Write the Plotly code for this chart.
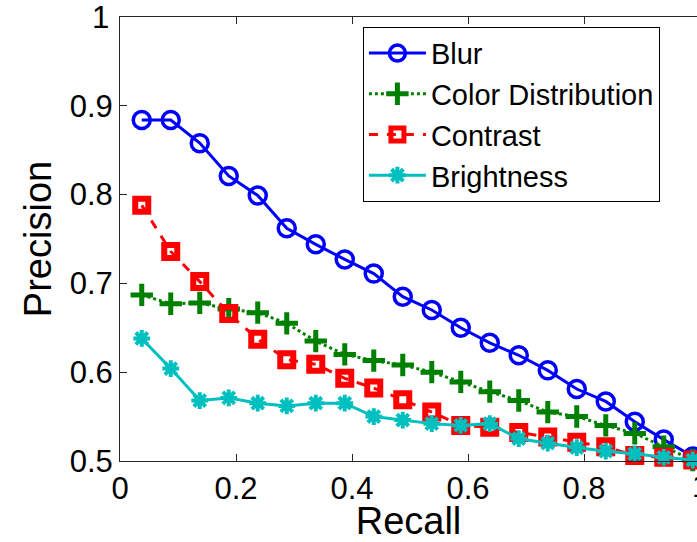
import plotly.graph_objects as go

recall = [0.0375, 0.0875, 0.1375, 0.1875, 0.2375, 0.2875, 0.3375, 0.3875, 0.4375, 0.4875,
          0.5375, 0.5875, 0.6375, 0.6875, 0.7375, 0.7875, 0.8375, 0.8875, 0.9375, 0.9875]
blur = [0.884, 0.884, 0.858, 0.821, 0.799, 0.762, 0.744, 0.727, 0.711, 0.685,
        0.670, 0.650, 0.633, 0.619, 0.602, 0.581, 0.567, 0.544, 0.524, 0.505]
color_dist = [0.687, 0.677, 0.678, 0.671, 0.667, 0.655, 0.635, 0.620, 0.613, 0.608,
              0.600, 0.589, 0.578, 0.568, 0.555, 0.550, 0.540, 0.531, 0.516, 0.501]
contrast = [0.788, 0.736, 0.702, 0.666, 0.637, 0.614, 0.609, 0.593, 0.582, 0.569,
            0.555, 0.540, 0.538, 0.532, 0.527, 0.521, 0.516, 0.506, 0.504, 0.501]
brightness = [0.638, 0.604, 0.568, 0.571, 0.565, 0.562, 0.565, 0.565, 0.550, 0.546,
              0.542, 0.540, 0.542, 0.525, 0.520, 0.515, 0.511, 0.508, 0.504, 0.501]

series_names = ["Blur", "Color Distribution", "Contrast", "Brightness"]
x_ticks = [0, 0.2, 0.4, 0.6, 0.8]
x_tick_text = ["0", "0.2", "0.4", "0.6", "0.8"]
y_ticks = [0.5, 0.6, 0.7, 0.8, 0.9, 1.0]
y_tick_text = ["0.5", "0.6", "0.7", "0.8", "0.9", "1"]

FONT = "Liberation Sans, Arial, Helvetica, sans-serif"

fig = go.Figure()
fig.add_trace(go.Scatter(
    x=recall, y=blur, name=series_names[0], mode="lines+markers",
    line=dict(color="#0000FF", width=3),
    marker=dict(symbol="circle-open", size=17, color="#0000FF", line=dict(width=3.5, color="#0000FF")),
    cliponaxis=False))
fig.add_trace(go.Scatter(
    x=recall, y=color_dist, name=series_names[1], mode="lines+markers",
    line=dict(color="#008000", width=3, dash="dot"),
    marker=dict(symbol="cross-thin-open", size=16, color="#008000", line=dict(width=5, color="#008000")),
    cliponaxis=False))
fig.add_trace(go.Scatter(
    x=recall, y=contrast, name=series_names[2], mode="lines+markers",
    line=dict(color="#FF0000", width=3, dash="dash"),
    marker=dict(symbol="square-open", size=13, color="#FF0000", line=dict(width=6, color="#FF0000")),
    cliponaxis=False))
fig.add_trace(go.Scatter(
    x=recall, y=brightness, name=series_names[3], mode="lines+markers",
    line=dict(color="#00BFBF", width=3),
    marker=dict(symbol="asterisk-open", size=14, color="#00BFBF", line=dict(width=4, color="#00BFBF")),
    cliponaxis=False))

fig.update_layout(
    width=697, height=542,
    margin=dict(l=120, r=0, t=17, b=81),
    paper_bgcolor="white", plot_bgcolor="white",
    font=dict(family=FONT, size=31, color="black"),
    showlegend=True,
    legend=dict(
        x=0.421, y=0.978, xanchor="left", yanchor="top",
        bgcolor="white", bordercolor="black", borderwidth=1,
        font=dict(family=FONT, size=29, color="black"),
        tracegroupgap=0, itemwidth=57,
    ),
    xaxis=dict(
        range=[0, 0.9948], tickvals=x_ticks, ticktext=x_tick_text,
        ticks="inside", ticklen=7, tickcolor="#262626",
        showline=True, linecolor="#262626", linewidth=1, mirror="ticks",
        showgrid=False, zeroline=False,
        title=dict(text="Recall", font=dict(family=FONT, size=38), standoff=0),
        tickfont=dict(family=FONT, size=31),
    ),
    yaxis=dict(
        range=[0.4999, 1.0001], tickvals=y_ticks, ticktext=y_tick_text,
        ticks="inside", ticklen=7, tickcolor="#262626",
        showline=True, linecolor="#262626", linewidth=1, mirror=False,
        showgrid=False, zeroline=False,
        title=dict(text="Precision", font=dict(family=FONT, size=38), standoff=6),
        tickfont=dict(family=FONT, size=31),
    ),
    yaxis2=dict(
        overlaying="y", side="right", anchor="x",
        range=[0.4999, 1.0001], tickvals=y_ticks, showticklabels=False,
        ticks="inside", ticklen=7, tickcolor="#262626",
        showline=False, showgrid=False, zeroline=False,
    ),
)

# tick label at recall = 1 (axis end lies just past the page edge)
fig.add_annotation(
    x=(700 - 120) / 577, y=0, xref="paper", yref="paper",
    text=x_tick_text[0].replace("0", "1"), showarrow=False, xanchor="center", yanchor="top", yshift=-6,
    font=dict(family=FONT, size=31, color="black"),
)
# tick label at precision = 1 (top end of the axis)
fig.add_annotation(
    x=0, y=y_ticks[-1], xref="paper", yref="y",
    text=y_tick_text[-1], showarrow=False, xanchor="right", yanchor="middle", xshift=-9,
    font=dict(family=FONT, size=31, color="black"),
)

fig.write_html("out.html")
